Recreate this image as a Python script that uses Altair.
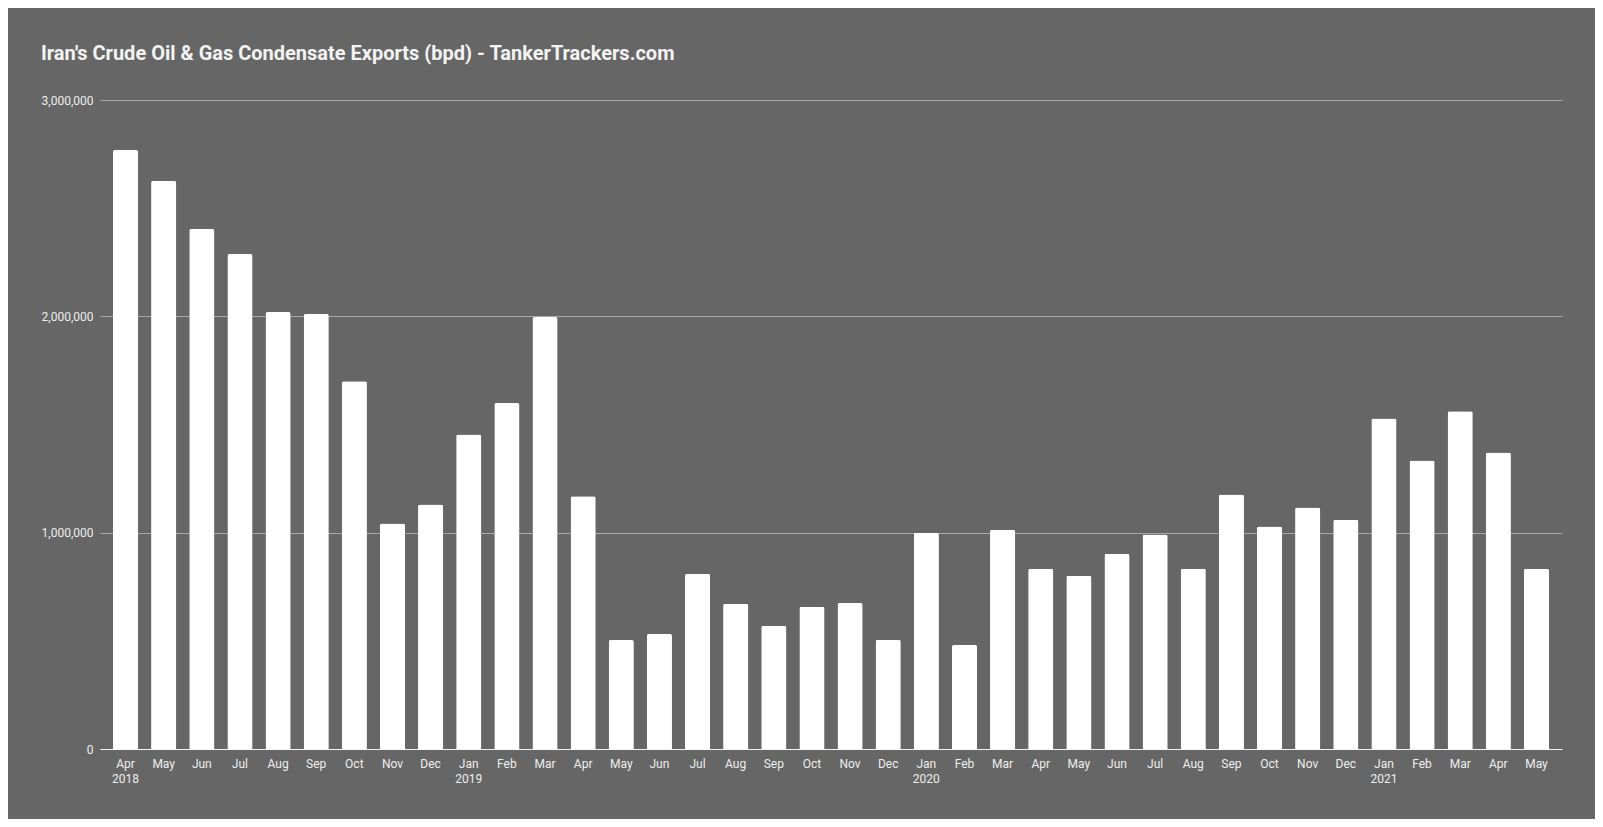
import altair as alt
import pandas as pd

months = ["Apr 2018", "May 2018", "Jun 2018", "Jul 2018", "Aug 2018", "Sep 2018", "Oct 2018", "Nov 2018", "Dec 2018",
          "Jan 2019", "Feb 2019", "Mar 2019", "Apr 2019", "May 2019", "Jun 2019", "Jul 2019", "Aug 2019", "Sep 2019",
          "Oct 2019", "Nov 2019", "Dec 2019",
          "Jan 2020", "Feb 2020", "Mar 2020", "Apr 2020", "May 2020", "Jun 2020", "Jul 2020", "Aug 2020", "Sep 2020",
          "Oct 2020", "Nov 2020", "Dec 2020",
          "Jan 2021", "Feb 2021", "Mar 2021", "Apr 2021", "May 2021"]

exports_bpd = [2769000, 2626000, 2404000, 2288000, 2020000, 2011000, 1700000, 1042000, 1130000,
               1454000, 1599000, 1997000, 1168000, 504000, 532000, 810000, 671000, 569000,
               657000, 675000, 505000,
               1000000, 481000, 1014000, 833000, 801000, 903000, 991000, 833000, 1176000,
               1029000, 1116000, 1060000,
               1528000, 1334000, 1561000, 1371000, 833000]

y_ticks = [0, 1000000, 2000000, 3000000]

df = pd.DataFrame({"month": months, "bpd": exports_bpd})

FONT = "Roboto"

label_expr = ("datum.value == 'Apr 2018' || indexof(datum.value, 'Jan') == 0 "
              "? split(datum.value, ' ') : split(datum.value, ' ')[0]")

chart = alt.Chart(df).mark_bar(
    color="#ffffff", cornerRadiusTopLeft=2, cornerRadiusTopRight=2
).encode(
    x=alt.X("month:N", sort=None, title=None,
            scale=alt.Scale(paddingInner=0.34, paddingOuter=0.34),
            axis=alt.Axis(labelAngle=0, labelExpr=label_expr, labelColor="#eeeeee",
                          labelFontSize=12, labelFont=FONT, labelPadding=9,
                          labelLineHeight=15, ticks=False, domainColor="#f4f4f4",
                          domainWidth=1, grid=False, labelBaseline="top")),
    y=alt.Y("bpd:Q", title=None,
            scale=alt.Scale(domain=[0, 3000000], nice=False),
            axis=alt.Axis(values=y_ticks, labelExpr="format(datum.value, ',.0f')",
                          labelColor="#eeeeee",
                          labelFontSize=12, labelFont=FONT, labelPadding=7,
                          ticks=False, domain=False, gridColor="#a8a8a8", gridWidth=1)),
).properties(
    width=1462,
    height=649,
    title=alt.TitleParams(
        "Iran's Crude Oil & Gas Condensate Exports (bpd) - TankerTrackers.com",
        anchor="start", frame="group", dx=-59, offset=30, font=FONT, fontSize=20,
        fontWeight="bold", color="#f3f3f3"),
    background="#666666",
    padding={"left": 92, "top": 92, "right": 33, "bottom": 70},
    autosize=alt.AutoSizeParams(type="none"),
).configure_view(stroke=None)

chart.save("out.html", embed_options={"renderer": "svg", "actions": False})
